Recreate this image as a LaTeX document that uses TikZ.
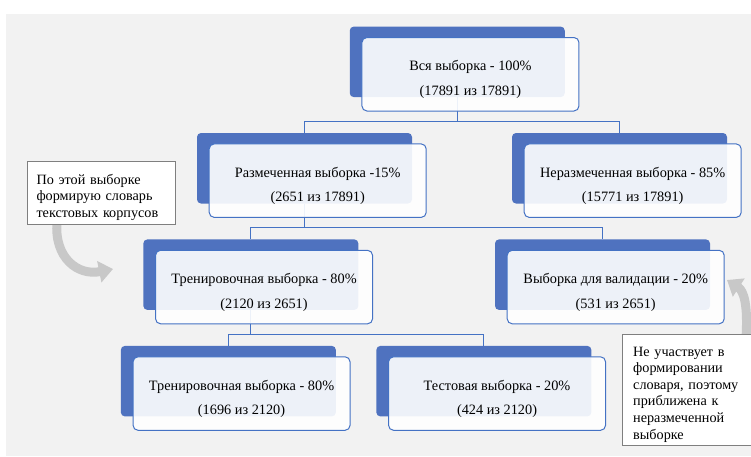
\documentclass[tikz,border=0pt]{standalone}
\usepackage{fontspec}
\setmainfont{Liberation Serif}
\usetikzlibrary{positioning,arrows.meta}
\definecolor{boxblue}{RGB}{79,114,191}
\definecolor{lineblue}{RGB}{68,114,196}
\definecolor{bggrey}{RGB}{242,242,242}
\definecolor{arrowgrey}{RGB}{200,200,200}
\definecolor{notegrey}{RGB}{127,127,127}
\tikzset{
  backbox/.style={fill=boxblue, rounded corners=4pt, minimum width=215pt, minimum height=70.5pt, inner sep=0pt},
  frontbox/.style={draw=lineblue, line width=1pt, fill=white, fill opacity=0.9, text opacity=1, rounded corners=5pt,
    minimum width=217pt, minimum height=73.5pt, inner sep=0pt, align=center,
    font=\fontsize{14.3}{24.3}\selectfont, text height=46pt, text depth=4pt},
  notebox/.style={draw=notegrey, line width=0.8pt, fill=white, align=left, inner ysep=0pt,
    font=\fontsize{14.2}{16.6}\selectfont, execute at begin node={\rule{0pt}{19pt}}},
  link/.style={draw=lineblue, line width=1.1pt, to path={(\tikztostart.south) -- ++(0,-24pt) -| (\tikztotarget.north)}},
  hintarrow/.style={draw=arrowgrey, line width=9pt, -{Triangle[length=14pt,width=21pt]}}
}
\begin{document}
\begin{tikzpicture}[x=1pt, y=-1pt, on grid]
\useasboundingbox (0,0) rectangle (751,456);
\fill[bggrey] (6,14) rectangle (751,456);
\node[backbox](b_all) at (457.25,61.85){};
\node[backbox](b_lab) [below left=106.4pt and 152.75pt of b_all]{};
\node[backbox](b_unlab) [below right=106.4pt and 162.25pt of b_all]{};
\node[backbox](b_train) [below left=106.4pt and 53.65pt of b_lab]{};
\node[backbox](b_valid) [below right=106.4pt and 298pt of b_lab]{};
\node[backbox](b_fit) [below left=106.5pt and 22.5pt of b_train]{};
\node[backbox](b_test) [below right=106.5pt and 233pt of b_train]{};
\path[link]
(b_all) edge (b_lab)
        edge (b_unlab)
(b_lab) edge (b_train)
        edge (b_valid)
(b_train) edge (b_fit)
          edge (b_test);
\node[frontbox](all) [below right=12.4pt and 13.2pt of b_all]{Вся выборка - 100\%\\(17891 из 17891)};
\node[frontbox](lab) [below right=12.4pt and 13.2pt of b_lab]{Размеченная выборка -15\%\\(2651 из 17891)};
\node[frontbox](unlab) [below right=12.4pt and 13.2pt of b_unlab]{Неразмеченная выборка - 85\%\\(15771 из 17891)};
\node[frontbox](train) [below right=12.4pt and 13.2pt of b_train]{Тренировочная выборка - 80\%\\(2120 из 2651)};
\node[frontbox](valid) [below right=12.4pt and 13.2pt of b_valid]{Выборка для валидации - 20\%\\(531 из 2651)};
\node[frontbox](fit) [below right=12.4pt and 13.2pt of b_fit]{Тренировочная выборка - 80\%\\(1696 из 2120)};
\node[frontbox](test) [below right=12.4pt and 13.2pt of b_test]{Тестовая выборка - 20\%\\(424 из 2120)};
\coordinate (hint_l_a) at (57,222);
\coordinate (hint_l_b) at (113,269);
\coordinate (hint_r_a) at (746,338);
\coordinate (hint_r_b) at (727,280);
\draw[hintarrow] (hint_l_a) .. controls (54,258) and (78,276) .. (hint_l_b);
\draw[hintarrow] (hint_r_a) .. controls (748,305) and (744,291) .. (hint_r_b);
\node[notebox, text width=130pt, inner xsep=9pt, minimum height=62.3pt](note_l) at (101.5,192.85)
  {По этой выборке\\формирую словарь\\текстовых корпусов};
\node[notebox, text width=112pt, inner xsep=10.5pt, minimum height=110.7pt](note_r) at (689.2,389.65)
  {Не участвует в\\формировании\\словаря, поэтому\\приближена к\\неразмеченной\\выборке};
\end{tikzpicture}
\end{document}
